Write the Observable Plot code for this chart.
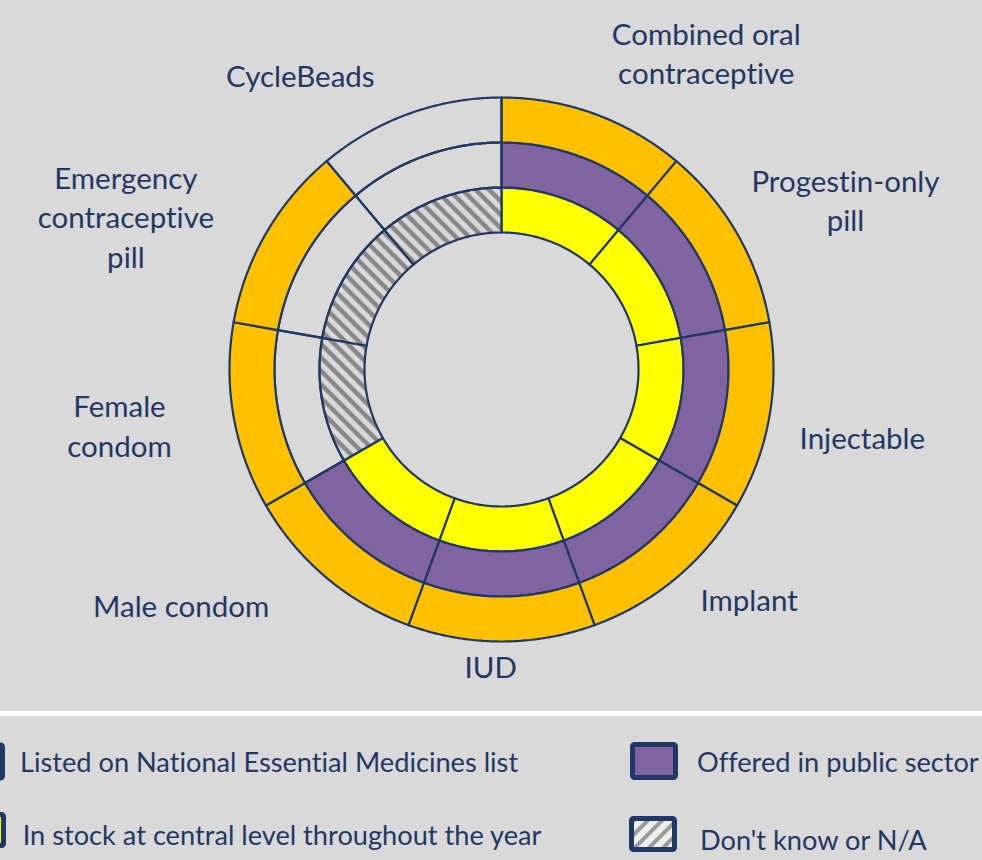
<!DOCTYPE html>
<html>
<head>
<meta charset="utf-8">
<script src="https://cdn.jsdelivr.net/npm/d3@7"></script>
<script src="https://cdn.jsdelivr.net/npm/@observablehq/plot@0.6"></script>
<style>
  html, body { margin: 0; padding: 0; background: #d9d9d9; width: 982px; height: 860px; overflow: hidden; }
  #chart svg, #legend svg { display: block; }
  svg text { font-variant-ligatures: none; font-feature-settings: "liga" 0, "clig" 0; }
  #sep { height: 5px; background: #ffffff; }
</style>
</head>
<body>
<div id="chart"></div>
<div id="sep"></div>
<div id="legend"></div>
<script>
// ---------------- data ----------------
const categories = [
  "Combined oral\ncontraceptive",
  "Progestin-only\npill",
  "Injectable",
  "Implant",
  "IUD",
  "Male condom",
  "Female\ncondom",
  "Emergency\ncontraceptive\npill",
  "CycleBeads"
];
// status per category: "yes", "no", "unknown"
const listedOnNEML   = ["yes", "yes", "yes", "yes", "yes", "yes", "yes", "yes", "no"];
const offeredPublic  = ["yes", "yes", "yes", "yes", "yes", "yes", "no", "no", "no"];
const inStockCentral = ["yes", "yes", "yes", "yes", "yes", "yes", "unknown", "unknown", "unknown"];

const seriesNames = [
  "Listed on National Essential Medicines list",
  "Offered in public sector",
  "In stock at central level throughout the year",
  "Don't know or N/A"
];

// ---------------- layout ----------------
const NAVY = "#1f3864";
const COLORS = { listed: "#ffc000", offered: "#8064a2", stock: "#ffff00" };
const ringRadii = [137, 182, 227, 272]; // inner hole -> outer edge
const rings = [
  { series: seriesNames[2], values: inStockCentral, r0: ringRadii[0], r1: ringRadii[1] },
  { series: seriesNames[1], values: offeredPublic,  r0: ringRadii[1], r1: ringRadii[2] },
  { series: seriesNames[0], values: listedOnNEML,   r0: ringRadii[2], r1: ringRadii[3] }
];
// label placement (angle in degrees clockwise from top, radius)
const labelAngle  = [32.8, 63.6, 100.5, 132.7, 182.1, 233.8, 261.8, 292.3, 325.7];
const labelRadius = [378, 384, 367, 337, 296, 397, 386, 406, 357];

const step = 360 / categories.length;
const rad = d => d * Math.PI / 180;

const cells = [];
rings.forEach((ring, k) => {
  categories.forEach((c, i) => {
    const s = ring.values[i];
    const fill = s === "yes" ? ring.series : s === "unknown" ? seriesNames[3] : "No";
    const a0 = i * step, a1 = (i + 1) * step;
    const pts = [];
    for (let a = a0; a <= a1 + 1e-9; a += 0.5) pts.push([a, ring.r1]);
    for (let a = a1; a >= a0 - 1e-9; a -= 0.5) pts.push([a, ring.r0]);
    for (const [a, r] of pts) {
      cells.push({ id: k + "-" + i, fill, x: r * Math.sin(rad(a)), y: r * Math.cos(rad(a)) });
    }
  });
});

const labels = categories.map((c, i) => ({
  text: c,
  x: labelRadius[i] * Math.sin(rad(labelAngle[i])),
  y: labelRadius[i] * Math.cos(rad(labelAngle[i]))
}));

const chart = Plot.plot({
  width: 982,
  height: 711,
  margin: 0,
  x: { domain: [-501, 481], axis: null },
  y: { domain: [-342, 369], axis: null },
  color: {
    domain: [seriesNames[0], seriesNames[1], seriesNames[2], seriesNames[3], "No"],
    range: [COLORS.listed, COLORS.offered, COLORS.stock, "url(#hatch)", "none"]
  },
  style: { background: "transparent", overflow: "visible" },
  marks: [
    Plot.line(cells, {
      x: "x", y: "y", z: "id", fill: "fill",
      stroke: NAVY, strokeWidth: 2.2, strokeLinejoin: "round",
      curve: "linear-closed"
    }),
    Plot.text(labels, {
      x: "x", y: "y", text: "text",
      fill: NAVY, fontSize: 29.5, fontFamily: "Lato", lineHeight: 1.34,
      textAnchor: "middle", lineAnchor: "middle"
    })
  ]
});

// hatch pattern definitions
const defs = d3.select(chart).insert("defs", ":first-child");
const pat = defs.append("pattern").attr("id", "hatch")
  .attr("patternUnits", "userSpaceOnUse").attr("width", 9.5).attr("height", 9.5)
  .attr("patternTransform", "rotate(-45)");
pat.append("rect").attr("width", 9.5).attr("height", 9.5).attr("fill", "#dadada");
pat.append("rect").attr("x", 0.5).attr("width", 4.5).attr("height", 9.5).attr("fill", "#878787");

document.getElementById("chart").appendChild(chart);

// ---------------- legend ----------------
const lg = d3.select("#legend").append("svg").attr("width", 982).attr("height", 144);
const ldefs = lg.append("defs");
const lp = ldefs.append("pattern").attr("id", "hatchLegend")
  .attr("patternUnits", "userSpaceOnUse").attr("width", 10).attr("height", 10)
  .attr("patternTransform", "rotate(45)");
lp.append("rect").attr("width", 10).attr("height", 10).attr("fill", "#eeeeee");
lp.append("rect").attr("width", 4).attr("height", 10).attr("fill", "#9a9a9a");

const legendItems = [
  { label: seriesNames[0], fill: COLORS.listed, sx: -43, sy: 26.5, sh: 38, tx: 20, ty: 55.7 },
  { label: seriesNames[2], fill: COLORS.stock, sx: -42, sy: 96, sh: 36, tx: 22.7, ty: 129 },
  { label: seriesNames[1], fill: COLORS.offered, sx: 630, sy: 26, sh: 38, tx: 697, ty: 55.7 },
  { label: seriesNames[3], fill: "url(#hatchLegend)", sx: 629, sy: 100, sh: 36, tx: 700, ty: 134 }
];
for (const it of legendItems) {
  lg.append("rect").attr("x", it.sx + 2.5).attr("y", it.sy + 2.5)
    .attr("width", 48 - 5).attr("height", it.sh - 5).attr("rx", 2)
    .attr("fill", it.fill).attr("stroke", NAVY).attr("stroke-width", 5);
  lg.append("text").attr("x", it.tx).attr("y", it.ty)
    .attr("font-family", "Lato").attr("font-size", 27.2).attr("fill", NAVY)
    .text(it.label);
}
</script>
</body>
</html>
